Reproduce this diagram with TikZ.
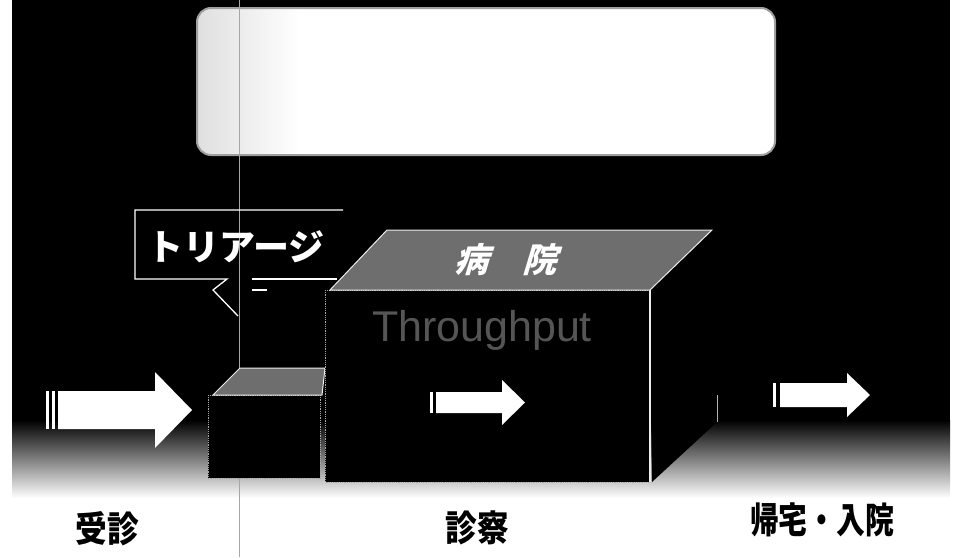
\documentclass[tikz,border=0pt]{standalone}
\usepackage{fontspec}
\setmainfont{Liberation Sans}
\newfontfamily\cjk{Noto Sans CJK JP}[FakeStretch=0.88]
\newfontfamily\cjknarrow{Noto Sans CJK JP}[FakeStretch=0.8]
\newfontfamily\cjkslant{Noto Sans CJK JP}[FakeSlant=0.3]
\newfontfamily\cjkplain{Noto Sans CJK JP}
\definecolor{texgray}{RGB}{110,110,110}
\definecolor{tpgray}{RGB}{85,85,85}
\begin{document}
\begin{tikzpicture}[x=1pt,y=-1pt,
  arrowfill/.style={fill=white},
  facetop/.style={fill=texgray,draw=white!85!gray,line width=1pt},
  facefront/.style={fill=black,draw=gray!70,line width=0.8pt,densely dotted},
  lab/.style={text=black,font=\cjk\bfseries\fontsize{36}{40}\selectfont,inner sep=0pt},
  labn/.style={text=black,font=\cjknarrow\bfseries\fontsize{36}{40}\selectfont,inner sep=0pt}]
\useasboundingbox (0,0) rectangle (955,557);
% background
\fill[white] (0,0) rectangle (955,557);
\fill[black] (12,0) rectangle (950,421);
\shade[top color=black,bottom color=white] (12,420) rectangle (950,498);
% top panel
\fill[white,rounded corners=14pt] (197,8) rectangle (775,155);
\begin{scope}
\clip[rounded corners=14pt] (197,8) rectangle (775,155);
\shade[left color=gray!25,right color=white] (197,8) rectangle (300,155);
\end{scope}
\draw[gray!75,line width=2pt,rounded corners=14pt] (197,8) rectangle (775,155);
% thin vertical line
\draw[gray!70,line width=0.8pt] (239,0) -- (239,557);
% callout
\draw[white,line width=1.3pt] (343,210) -- (135,210) -- (135,279) -- (227,279) -- (213,290) -- (238,316);
\draw[white,line width=1.3pt] (252,279) -- (337,279);
\draw[white,line width=1.3pt] (252,290) -- (267,290);
\node[text=white,font=\cjkplain\bfseries\fontsize{36}{40}\selectfont,inner sep=0pt] (tri) at (236,247) {トリアージ};
% small box (triage)
\coordinate (sA) at (208,395);
\coordinate (sB) at (320,478);
\filldraw[facefront] (sA) rectangle (sB);
\filldraw[facetop] (213,395) -- (240,368) -- (325,368) -- (322,395) -- cycle;
% big box (hospital)
\coordinate (bA) at (325,290);
\coordinate (bB) at (650,482);
\fill[black] (650,290) -- (712,230) -- (717,422) -- (652,482) -- cycle;
\filldraw[facefront] (bA) rectangle (bB);
\draw[white!85!gray,line width=1.2pt] (650,290) -- (650,482);
\filldraw[facetop] (330,290) -- (387,230) -- (712,230) -- (650,290) -- cycle;
\draw[gray!60,line width=0.8pt] (717,395) -- (717,422);
\node[text=white,font=\cjkslant\bfseries\fontsize{34}{38}\selectfont,inner sep=0pt] (hosp) at (505,260) {病　院};
\node[text=tpgray,font=\fontsize{43}{46}\selectfont,inner sep=0pt] (tp) at (482,330) {Throughput};
% arrows
\fill[arrowfill] (46,391) rectangle (49,429);
\fill[arrowfill] (52,391) rectangle (55,429);
\fill[arrowfill] (58,391) -- (155,391) -- (155,372) -- (192,410) -- (155,448) -- (155,429) -- (58,429) -- cycle;
\fill[arrowfill] (430,392) rectangle (433,413);
\fill[arrowfill] (436,392) -- (502,392) -- (502,380) -- (525,402.5) -- (502,425) -- (502,413) -- (436,413) -- cycle;
\fill[arrowfill] (773,383) rectangle (776,407);
\fill[arrowfill] (780,383) -- (847,383) -- (847,373) -- (870,395) -- (847,417) -- (847,407) -- (780,407) -- cycle;
% labels
\node[lab] (l1) at (107,529) {受診};
\node[lab] (l2) at (477,528) {診察};
\node[labn] (l3) at (822,520) {帰宅・入院};
\end{tikzpicture}
\end{document}
